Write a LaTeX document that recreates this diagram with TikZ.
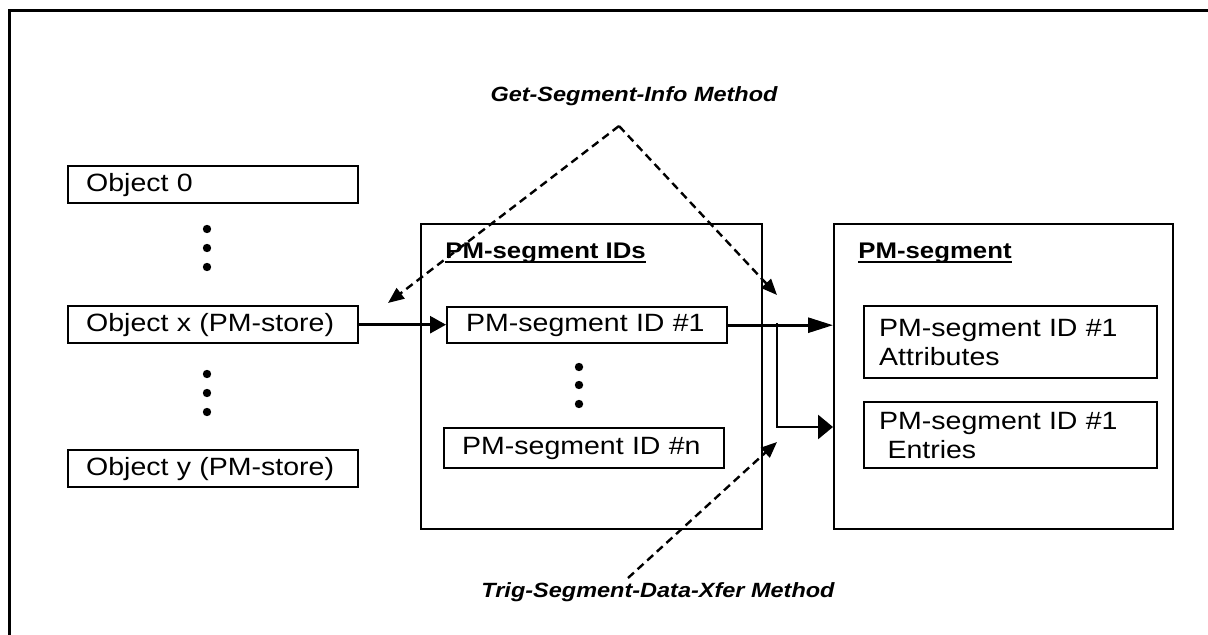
\documentclass[tikz,border=0pt]{standalone}
\usepackage{fontspec}
\setmainfont{Liberation Sans}[FakeStretch=1.14]
\usetikzlibrary{arrows.meta,calc}

\tikzset{
  objbox/.style={draw, line width=1.2pt, anchor=north west, inner xsep=9pt, inner ysep=0pt,
    text width=127pt, align=left, minimum height=18.5pt, font=\fontsize{12.5}{14.5}\selectfont},
  bigbox/.style={draw, line width=1.2pt, anchor=north west, inner sep=0pt},
  boxtitle/.style={anchor=base west, inner sep=0pt, font=\bfseries\fontsize{11.3}{13}\selectfont},
  method/.style={font=\bfseries\itshape\fontsize{10.3}{12}\selectfont},
  flow/.style={line width=1.4pt},
  dashflow/.style={line width=1.2pt, dash pattern=on 4pt off 2.5pt, -{Triangle[length=8pt,width=6.5pt]}}
}

\begin{document}
\begin{tikzpicture}[x=0.5pt, y=-0.5pt]
  \useasboundingbox (0,0) rectangle (1208,635);
  \draw[line width=1.5pt] (9,635) -- (9,11) -- (1208,11);

  % Objekte links
  \node[objbox] (obj0) at (67,165) {Object 0};
  \node[objbox] (objx) at (67,305) {Object x (PM-store)};
  \node[objbox] (objy) at (67,449) {Object y (PM-store)};
  \foreach \y in {229,248,267,374,393,412}
    \fill (207,\y) circle (2.1pt);

  % PM-segment IDs
  \node[bigbox, minimum width=170.5pt, minimum height=152.5pt] (ids) at (420,223) {};
  \node[boxtitle] (idstitle) at (445,259) {PM-segment IDs};
  \draw[line width=1.1pt] ([yshift=-1.5pt]idstitle.base west) -- ([yshift=-1.5pt]idstitle.base east);
  \node[objbox, text width=121pt, inner xsep=9.5pt, minimum height=18pt] (id1) at (446,306) {PM-segment ID \#1};
  \foreach \y in {367,385,404}
    \fill (579,\y) circle (2.1pt);
  \node[objbox, text width=122pt, inner xsep=9pt, minimum height=20pt] (idn) at (443,427) {PM-segment ID \#n};

  % PM-segment
  \node[bigbox, minimum width=169.5pt, minimum height=152.5pt] (seg) at (833,223) {};
  \node[boxtitle] (segtitle) at (858,259) {PM-segment};
  \draw[line width=1.1pt] ([yshift=-1.5pt]segtitle.base west) -- ([yshift=-1.5pt]segtitle.base east);
  \node[objbox, text width=131.5pt, inner xsep=7.5pt, minimum height=36pt] (attr) at (863,305) {PM-segment ID \#1\\Attributes};
  \node[objbox, text width=131.5pt, inner xsep=7.5pt, minimum height=33pt] (entr) at (863,401) {PM-segment ID \#1\\\ Entries};

  % Pfeile
  \draw[flow, -{Triangle[length=8pt,width=8.5pt]}] (objx.east) -- (objx.east -| id1.west);
  \draw[flow, -{Triangle[length=12.5pt,width=7.5pt]}] (id1.east) -- (id1.east -| seg.west);
  \coordinate (br) at (777,323.5);
  \coordinate (bend) at (777,427);
  \draw[flow, -{Triangle[length=7.5pt,width=12pt]}] (br) -- (bend) -- (bend -| seg.west);

  % Methoden
  \node[method] (getinfo) at (634,96) {Get-Segment-Info Method};
  \node[method] (trigxfer) at (658,592) {Trig-Segment-Data-Xfer Method};
  \coordinate (gtop) at (619,126);
  \coordinate (gleft) at (388,303);
  \coordinate (gright) at (777,295);
  \coordinate (tstart) at (628,578);
  \coordinate (tend) at (777,442);
  \draw[dashflow] (gtop) -- (gleft);
  \draw[dashflow] (gtop) -- (gright);
  \draw[dashflow] (tstart) -- (tend);
\end{tikzpicture}
\end{document}
